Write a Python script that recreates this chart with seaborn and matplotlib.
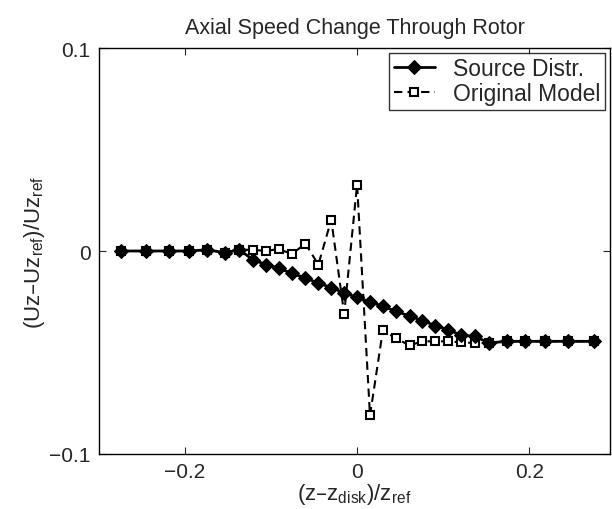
import numpy as np
import pandas as pd
import matplotlib
matplotlib.use("Agg")
import matplotlib.pyplot as plt
import seaborn as sns

# posicoes axiais (z - z_disk)/z_ref
z_pos = [-0.275, -0.245, -0.219, -0.195, -0.174, -0.154, -0.137, -0.121,
         -0.106, -0.091, -0.076, -0.060, -0.045, -0.030, -0.015, 0.0,
         0.015, 0.030, 0.045, 0.061, 0.076, 0.091, 0.106, 0.121,
         0.137, 0.153, 0.174, 0.195, 0.219, 0.245, 0.275]

# Source Distr.
u_source = [0, 0, 0, 0, 0.0006, -0.0008, 0.0006, -0.0043,
            -0.0067, -0.0084, -0.011, -0.0133, -0.0158, -0.018, -0.0207, -0.0228,
            -0.0251, -0.0272, -0.0297, -0.032, -0.0343, -0.0368, -0.0388, -0.0415,
            -0.042, -0.0453, -0.0445, -0.0445, -0.0445, -0.0445, -0.0445]

# Original Model
u_original = [0, 0, 0, 0, 0.0006, -0.0008, 0.0006, 0.0006,
              0.0, 0.001, -0.0015, 0.0036, -0.0067, 0.0154, -0.031, 0.0327,
              -0.081, -0.039, -0.043, -0.0465, -0.0445, -0.0445, -0.0445, -0.045,
              -0.0453, -0.0453, -0.0445, -0.0445, -0.0445, -0.0445, -0.0445]

x_ticks = [-0.2, 0, 0.2]
y_ticks = [-0.1, 0, 0.1]

sns.set_style("ticks")
plt.rcParams['font.family'] = ['Liberation Sans', 'DejaVu Sans']
plt.rcParams['mathtext.default'] = 'regular'
plt.rcParams['xtick.direction'] = 'in'
plt.rcParams['ytick.direction'] = 'in'

df = pd.DataFrame({"z": z_pos, "src": u_source, "orig": u_original})

fig = plt.figure(figsize=(6.12, 5.10), dpi=100)
ax = fig.add_axes([99 / 612, 1 - 455 / 510, 511 / 612, 406 / 510])

sns.lineplot(data=df, x="z", y="orig", sort=False, ax=ax, color="black",
             linestyle=(0, (4, 2.5)), linewidth=1.5, marker="s", markersize=5.5,
             markerfacecolor="white", markeredgecolor="black", markeredgewidth=1.5,
             label="Original Model", zorder=2)
sns.lineplot(data=df, x="z", y="src", sort=False, ax=ax, color="black",
             linewidth=2.0, marker="D", markersize=7.5,
             markerfacecolor="black", markeredgecolor="black",
             label="Source Distr.", zorder=3)

ax.set_xlim(-0.3, 0.294)
ax.set_ylim(-0.1, 0.1)
ax.set_xticks(x_ticks)
ax.set_xticklabels(["\u22120.2", "0", "0.2"])
ax.set_yticks(y_ticks)
ax.set_yticklabels(["\u22120.1", "0", "0.1"])
ax.tick_params(axis="both", labelsize=15, length=5, width=0.8,
               top=True, right=True, pad=6)
for s in ax.spines.values():
    s.set_visible(True)
    s.set_linewidth(1.0)
    s.set_color("black")

ax.set_title("Axial Speed Change Through Rotor", fontsize=15.5, pad=11)
ax.set_xlabel("(z\u2013z$_{disk}$)/z$_{ref}$", fontsize=16, labelpad=0)
ax.set_ylabel("(Uz\u2013Uz$_{ref}$)/Uz$_{ref}$", fontsize=16, labelpad=2)

handles, labels = ax.get_legend_handles_labels()
leg = ax.legend(handles[::-1], labels[::-1], loc="upper right", fontsize=16.5,
                frameon=True, fancybox=False, edgecolor="black",
                borderaxespad=0.2, handlelength=1.8, handletextpad=0.8,
                borderpad=0.2, labelspacing=0.1)
leg.get_frame().set_linewidth(1.0)

fig.savefig("out.png", dpi=100)
